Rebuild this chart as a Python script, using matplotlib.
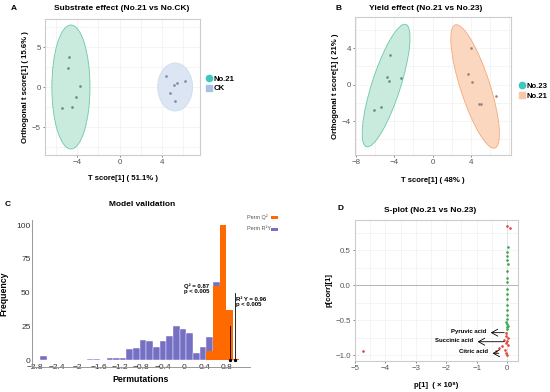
import matplotlib
matplotlib.use("Agg")
import matplotlib.pyplot as plt
from matplotlib.patches import Ellipse, Rectangle
from matplotlib.lines import Line2D
import matplotlib.ticker as mticker
import numpy as np

plt.rcParams['font.family'] = ['Liberation Sans', 'DejaVu Sans']

# ---------------- data ----------------
# Panel A: Substrate effect
a_no21_x = [-4.8, -4.86, -3.7, -4.16, -4.5, -5.4]
a_no21_y = [3.7, 2.4, 0.1, -1.2, -2.5, -2.6]
a_ck_x = [4.35, 5.4, 5.1, 6.2, 4.8, 5.2]
a_ck_y = [1.4, 0.45, 0.2, 0.75, -0.75, -1.75]
# ellipse: centre x, centre y, width, height, angle
a_ell_no21 = [-4.6, 0.0, 3.6, 15.5, 0]
a_ell_ck = [5.25, 0.0, 3.3, 6.0, 0]

# Panel B: Yield effect
b_no23_x = [-4.43, -4.74, -4.5, -3.33, -5.43, -6.08]
b_no23_y = [3.28, 0.84, 0.36, 0.69, -2.45, -2.81]
b_no21_x = [3.99, 3.71, 4.16, 4.81, 5.09, 6.6]
b_no21_y = [4.01, 1.2, 0.26, -2.12, -2.12, -1.28]
b_ell_no23 = [-4.85, -0.1, 14.0, 3.0, 73]
b_ell_no21 = [4.45, -0.2, 14.1, 3.1, -73]

# Panel C: permutation histogram (30 bins)
bin_width = 0.1253
bin_start = -2.708
perm_r2y_counts = [3, 0, 0, 0, 0, 0, 0, 1, 1, 0, 2, 2, 2, 8, 9, 15, 14, 10, 14,
                   18, 25, 23, 20, 5, 10, 17, 58, 0, 0, 0]
perm_q2_counts = [0] * 25 + [7, 55, 100, 37, 1]
q2_value = 0.87
r2y_value = 0.96

# Panel D: S-plot
d_green_x = [0.02, 0.0, 0.01, 0.0, 0.02, 0.0, 0.01, 0.0, -0.01, 0.0, 0.01, 0.0,
             -0.01, 0.0, 0.01, -0.02, 0.0, 0.02, -0.01, 0.0]
d_green_y = [0.55, 0.47, 0.42, 0.36, 0.3, 0.2, 0.1, 0.05, -0.05, -0.12, -0.2,
             -0.28, -0.35, -0.42, -0.48, -0.52, -0.55, -0.58, -0.6, -0.62]
d_red_x = [0.0, 0.1, -0.02, -0.05, 0.02, -0.1, 0.0, -0.05, 0.03, -0.15, -0.25,
           -0.08, -0.35, -0.02, 0.0, -4.75]
d_red_y = [0.85, 0.82, -0.68, -0.72, -0.75, -0.78, -0.8, -0.83, -0.85, -0.87,
           -0.9, -0.92, -0.94, -0.96, -0.99, -0.94]
d_annot_names = ["Pyruvic acid", "Succinic acid", "Citric acid"]
d_annot_y = [-0.676, -0.805, -0.97]
d_annot_tail = [0.0, 0.0, -0.18]
d_annot_head = [-0.63, -1.06, -0.57]

# ---------------- figure ----------------
W, H = 550, 392
fig = plt.figure(figsize=(W / 100, H / 100), dpi=100)


def add_ax(x0, y0, x1, y1):
    return fig.add_axes([x0 / W, 1 - y1 / H, (x1 - x0) / W, (y1 - y0) / H])


def ftext(x, y, s, **kw):
    fig.text(x / W, 1 - y / H, s, **kw)


TICK_C = '#555555'
GRID_C = '#f0f0f0'
FRAME_C = '#cccccc'
TICK_FS = 5.7
LAB_FS = 5.6


def style_score_ax(ax):
    for sp in ax.spines.values():
        sp.set_color(FRAME_C)
        sp.set_linewidth(0.8)
    ax.tick_params(labelsize=TICK_FS, colors=TICK_C, length=1.5, width=0.5, pad=1.5)
    ax.tick_params(which='minor', length=0)
    ax.grid(True, which='both', color=GRID_C, linewidth=0.5)
    ax.set_axisbelow(True)


# ---- Panel A ----
axA = add_ax(45, 19, 200, 155)
style_score_ax(axA)
GREEN_F = '#c8ebde'
GREEN_E = '#6cc7a8'
BLUE_F = '#dbe5f3'
for ell, fc, ec in [(a_ell_no21, GREEN_F, GREEN_E), (a_ell_ck, BLUE_F, '#cfdcef')]:
    axA.add_patch(Ellipse((ell[0], ell[1]), ell[2], ell[3], angle=ell[4],
                          facecolor=fc, edgecolor=ec, linewidth=0.6, zorder=2))
axA.scatter(a_no21_x, a_no21_y, s=0.8, color='#6a8a7c', zorder=3)
axA.scatter(a_ck_x, a_ck_y, s=0.8, color='#7a8aa8', zorder=3)
axA.set_xlim(-7.05, 7.6)
axA.set_ylim(-8.5, 8.5)
axA.set_xticks([-4, 0, 4])
axA.set_xticklabels(["−4", "0", "4"])
axA.set_yticks([-5, 0, 5])
axA.set_yticklabels(["−5", "0", "5"])
axA.xaxis.set_minor_locator(mticker.MultipleLocator(2))
axA.yaxis.set_minor_locator(mticker.MultipleLocator(2.5))
axA.set_xlabel("T score[1] ( 51.1% )", fontsize=LAB_FS, fontweight='bold', labelpad=6)
axA.set_ylabel("Orthogonal t score[1] ( 15.6% )", fontsize=LAB_FS, fontweight='bold', labelpad=2)
ftext(122, 9, "Substrate effect (No.21 vs No.CK)", fontsize=6, fontweight='bold',
      ha='center', va='center')
ftext(14, 9, "A", fontsize=6, fontweight='bold', ha='center', va='center')
legA = [Line2D([], [], marker='o', linestyle='none', markersize=4.5,
               markerfacecolor='#3cc8c0', markeredgecolor='#3cc8c0', label='No.21'),
        Line2D([], [], marker='s', linestyle='none', markersize=4.5,
               markerfacecolor='#a9bfe6', markeredgecolor='#a9bfe6', label='CK')]
fig.legend(handles=legA, loc='center left', bbox_to_anchor=(201 / W, 1 - 84 / H),
           frameon=False, prop={'weight': 'bold', 'size': 5.6},
           handletextpad=0.1, labelspacing=0.25, borderpad=0, handlelength=1)

# ---- Panel B ----
axB = add_ax(355, 17, 511, 155)
style_score_ax(axB)
ORANGE_F = '#fbd7c0'
ORANGE_E = '#f2a97c'
for ell, fc, ec in [(b_ell_no23, GREEN_F, GREEN_E), (b_ell_no21, ORANGE_F, ORANGE_E)]:
    axB.add_patch(Ellipse((ell[0], ell[1]), ell[2], ell[3], angle=ell[4],
                          facecolor=fc, edgecolor=ec, linewidth=0.6, zorder=2))
axB.scatter(b_no23_x, b_no23_y, s=0.8, color='#6a8a7c', zorder=3)
axB.scatter(b_no21_x, b_no21_y, s=0.8, color='#a08070', zorder=3)
axB.set_xlim(-8.1, 8.2)
axB.set_ylim(-7.7, 7.4)
axB.set_xticks([-8, -4, 0, 4])
axB.set_xticklabels(["−8", "−4", "0", "4"])
axB.set_yticks([-4, 0, 4])
axB.set_yticklabels(["−4", "0", "4"])
axB.xaxis.set_minor_locator(mticker.MultipleLocator(2))
axB.yaxis.set_minor_locator(mticker.MultipleLocator(2))
axB.set_xlabel("T score[1] ( 48% )", fontsize=LAB_FS, fontweight='bold', labelpad=8)
axB.set_ylabel("Orthogonal t score[1] ( 21% )", fontsize=LAB_FS, fontweight='bold', labelpad=2)
ftext(426, 8, "Yield effect (No.21 vs No.23)", fontsize=6, fontweight='bold',
      ha='center', va='center')
ftext(339, 8, "B", fontsize=6, fontweight='bold', ha='center', va='center')
legB = [Line2D([], [], marker='o', linestyle='none', markersize=4.5,
               markerfacecolor='#3cc8c0', markeredgecolor='#3cc8c0', label='No.23'),
        Line2D([], [], marker='s', linestyle='none', markersize=4.5,
               markerfacecolor='#f9c6a6', markeredgecolor='#f9c6a6', label='No.21')]
fig.legend(handles=legB, loc='center left', bbox_to_anchor=(514 / W, 1 - 91 / H),
           frameon=False, prop={'weight': 'bold', 'size': 5.6},
           handletextpad=0.1, labelspacing=0.35, borderpad=0, handlelength=1)

# ---- Panel C ----
axC = add_ax(32, 220, 250, 367)
BLUE_H = '#7670c4'
ORANGE_H = '#ff6a00'
nb = len(perm_r2y_counts)
lefts = bin_start + bin_width * np.arange(nb)
axC.bar(lefts, perm_r2y_counts, width=bin_width, align='edge', color=BLUE_H,
        edgecolor='white', linewidth=0.3, zorder=2)
axC.bar(lefts, perm_q2_counts, width=bin_width, align='edge', color=ORANGE_H,
        edgecolor='none', linewidth=0, zorder=3)
axC.plot([q2_value, q2_value], [0, 25], color='black', linewidth=0.6, zorder=4)
axC.plot([r2y_value, r2y_value], [0, 50], color='black', linewidth=0.6, zorder=4)
axC.scatter([q2_value, r2y_value], [0, 0], s=2, color='black', zorder=5)
axC.text(0.0, 53, "Q² = 0.87\np < 0.005", fontsize=4.3, fontweight='bold',
         ha='left', va='center', linespacing=1.2, zorder=6)
axC.text(0.98, 43, "R² Y = 0.96\np < 0.005", fontsize=4.3, fontweight='bold',
         ha='left', va='center', linespacing=1.2, zorder=6)
axC.set_xlim(-2.86, 1.25)
axC.set_ylim(-5, 103.7)
axC.set_xticks([-2.8, -2.4, -2.0, -1.6, -1.2, -0.8, -0.4, 0, 0.4, 0.8])
axC.set_xticklabels(["−2.8", "−2.4", "−2", "−1.6", "−1.2", "−0.8", "−0.4", "0", "0.4", "0.8"])
axC.set_yticks([0, 25, 50, 75, 100])
for sp in ['top', 'right']:
    axC.spines[sp].set_visible(False)
for sp in ['left', 'bottom']:
    axC.spines[sp].set_color('#888888')
    axC.spines[sp].set_linewidth(0.6)
axC.tick_params(axis='y', labelsize=6, colors='#333333', length=0, pad=1)
axC.tick_params(axis='x', labelsize=6, colors='#333333', length=0, pad=-2.5)
for lab in axC.get_xticklabels():
    lab.set_bbox(dict(facecolor='white', edgecolor='none', pad=0.6))
axC.set_xlabel("Permutations", fontsize=6.3, fontweight='bold', labelpad=3)
axC.set_ylabel("Frequency", fontsize=6.3, fontweight='bold', labelpad=6)
ftext(142, 204, "Model validation", fontsize=6, fontweight='bold', ha='center', va='center')
ftext(8, 204, "C", fontsize=6, fontweight='bold', ha='center', va='center')
ftext(247, 217, "Perm Q²", fontsize=4, color='#555555', ha='left', va='center')
ftext(247, 229, "Perm R²Y", fontsize=4, color='#555555', ha='left', va='center')
fig.patches.append(Rectangle((271 / W, 1 - 218.5 / H), 7 / W, 3 / H,
                   transform=fig.transFigure, facecolor=ORANGE_H, edgecolor='none'))
fig.patches.append(Rectangle((271 / W, 1 - 230.5 / H), 7 / W, 3 / H,
                   transform=fig.transFigure, facecolor=BLUE_H, edgecolor='none'))

# ---- Panel D ----
axD = add_ax(355, 220, 518, 361)
style_score_ax(axD)
axD.axhline(0, color='#aaaaaa', linewidth=0.6, zorder=1)
axD.axvline(0, color='#dddddd', linewidth=0.5, zorder=1)
axD.scatter(d_green_x, d_green_y, s=0.8, color='#3aa84a', zorder=3)
axD.scatter(d_red_x, d_red_y, s=0.8, color='#e0443c', zorder=3)
for name, yv, t0, t1 in zip(d_annot_names, d_annot_y, d_annot_tail, d_annot_head):
    axD.annotate("", xy=(t1, yv), xytext=(t0, yv),
                 arrowprops=dict(arrowstyle='->,head_length=0.45,head_width=0.25',
                                 color='black', linewidth=0.6))
    axD.text(t1 - 0.05, yv + 0.02, name, fontsize=4.3, fontweight='bold',
             ha='right', va='center', zorder=6)
axD.set_xlim(-5.0, 0.36)
axD.set_ylim(-1.08, 0.93)
axD.set_xticks([-5, -4, -3, -2, -1, 0])
axD.set_yticks([-1.0, -0.5, 0.0, 0.5])
axD.set_yticklabels(["−1.0", "−0.5", "0.0", "0.5"])
axD.set_xticklabels(["−5", "−4", "−3", "−2", "−1", "0"])
axD.xaxis.set_minor_locator(mticker.MultipleLocator(0.5))
axD.yaxis.set_minor_locator(mticker.MultipleLocator(0.25))
axD.set_xlabel("p[1]  ( × 10⁸)", fontsize=LAB_FS, fontweight='bold', labelpad=7)
axD.set_ylabel("p[corr][1]", fontsize=LAB_FS, fontweight='bold', labelpad=2)
ftext(430, 211, "S-plot (No.21 vs No.23)", fontsize=6, fontweight='bold',
      ha='center', va='center')
ftext(340, 209, "D", fontsize=6, fontweight='bold', ha='center', va='center')

fig.savefig("out.png", dpi=100, facecolor='white')
